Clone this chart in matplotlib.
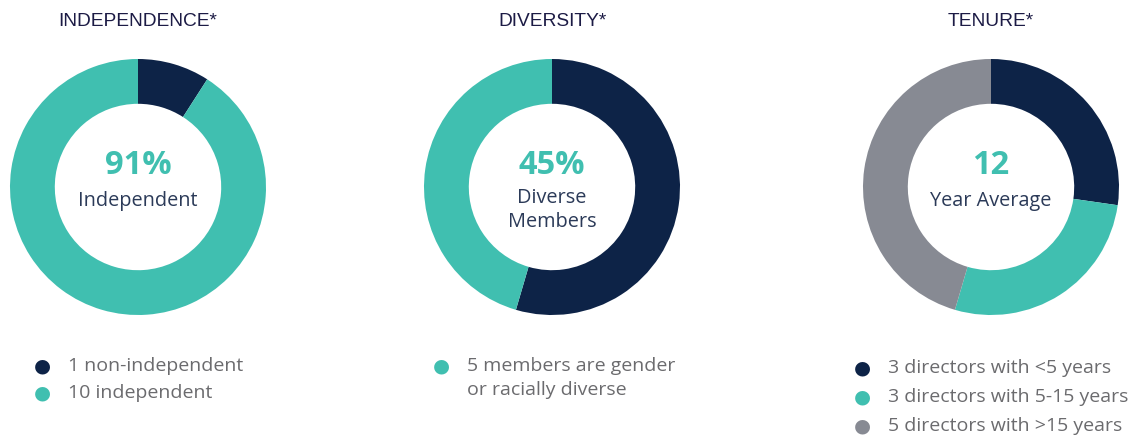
import matplotlib.pyplot as plt

NAVY = "#0d2347"
TEAL = "#40bfb0"
GRAY = "#878a93"

# chart data
titles = ["INDEPENDENCE*", "DIVERSITY*", "TENURE*"]
independence = [1, 10]
diversity = [6, 5]
tenure = [3, 3, 5]
big_numbers = ["91%", "45%", "12"]
sub_labels = [["Independent"], ["Diverse", "Members"], ["Year Average"]]
legend_independence = ["1 non-independent", "10 independent"]
legend_diversity = ["5 members are gender", "or racially diverse"]
legend_tenure = ["3 directors with <5 years", "3 directors with 5-15 years",
                 "5 directors with >15 years"]

W, H = 1139, 437
fig = plt.figure(figsize=(W / 100, H / 100), dpi=100)
FONT = "Open Sans"
LEG_COL = "#6b6b6e"

def px_axes(x, y, w, h):
    # pixel box (top-left origin) -> figure axes
    return fig.add_axes([x / W, 1 - (y + h) / H, w / W, h / H])

def put(x, y, s, **kw):
    fig.text(x / W, 1 - y / H, s, **kw)

centers = [138, 552, 991]
cy = 187
R = 128
values = [independence, diversity, tenure]
colors = [[NAVY, TEAL], [NAVY, TEAL], [NAVY, TEAL, GRAY]]

for i in range(3):
    ax = px_axes(centers[i] - R, cy - R, 2 * R, 2 * R)
    ax.pie(values[i], colors=colors[i], startangle=90, counterclock=False,
           radius=1, wedgeprops=dict(width=0.35, linewidth=0))
    ax.set_xlim(-1, 1)
    ax.set_ylim(-1, 1)
    ax.set_aspect("equal")
    ax.axis("off")

    put(centers[i], 21, titles[i], ha="center", va="center",
        fontsize=13.8, color="#1c1b45", family="Liberation Sans")

    put(centers[i], 165, big_numbers[i], ha="center", va="center",
        fontsize=23.5, fontweight="bold", color=TEAL, family=FONT)
    lines = sub_labels[i]
    y0 = 201 if len(lines) == 1 else 198
    for k, s in enumerate(lines):
        put(centers[i], y0 + 24 * k, s, ha="center", va="center",
            fontsize=14.3, color="#2b3a58", family=FONT)

def legend(x, y0, dy, labels, cols):
    for j, lab in enumerate(labels):
        y = y0 + j * dy
        if cols[j] is not None:
            put(x, y, "\u25CF", ha="center", va="center",
                fontsize=14, color=cols[j], family="DejaVu Sans")
        put(x + 26, y, lab, ha="left", va="center",
            fontsize=14, color=LEG_COL, family=FONT)

legend(42, 366, 27, legend_independence, [NAVY, TEAL])
legend(441, 366, 24, legend_diversity, [TEAL, None])
legend(862, 368, 29, legend_tenure, [NAVY, TEAL, GRAY])

fig.savefig("out.png", dpi=100)
